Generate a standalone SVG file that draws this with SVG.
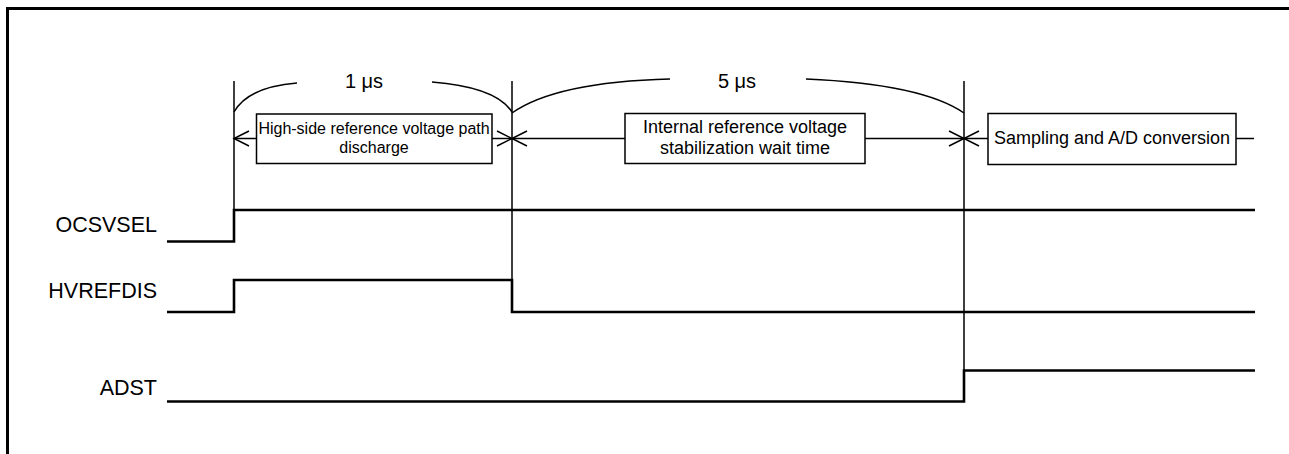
<svg xmlns="http://www.w3.org/2000/svg" width="1289" height="454" viewBox="0 0 1289 454">
<style>
.bg{fill:#fff}
.frame{fill:none;stroke:#000;stroke-width:3}
.guide{fill:none;stroke:#000;stroke-width:1.5}
.sig{fill:none;stroke:#000;stroke-width:2.6;stroke-linejoin:miter}
.box{fill:#fff;stroke:#000;stroke-width:1.5}
.t{font-family:"Liberation Sans",Arial,sans-serif;fill:#000}
.lbl{font-size:21.5px;text-anchor:end}
.btxt{font-size:18px;text-anchor:middle}
.dim{font-size:20px;text-anchor:middle}
</style>
<rect class="bg" x="0" y="0" width="1289" height="454"/>
<path class="frame" d="M7.5,454 V8.5 H1289"/>
<g id="connectors">
  <path class="guide" d="M234,81 V241 M512,81 V312 M964,81 V402"/>
  <path class="guide" d="M234,112 Q248,87 297,83 M432,82 Q496,87 512,112"/>
  <path class="guide" d="M512,113 Q556,82 670,79 M806,79 Q922,84 964,113"/>
  <path class="guide" d="M234,138.5 H256.5 M492,138.5 H625 M865,138.5 H988 M1236,138.5 H1254"/>
  <path class="guide" d="M249,131 L234,138.5 L249,146 M497,131 L512,138.5 L497,146 M527,131 L512,138.5 L527,146 M949,131 L964,138.5 L949,146 M979,131 L964,138.5 L979,146"/>
</g>
<g id="dim1"><text class="t dim" x="364" y="88">1 μs</text></g>
<g id="dim5"><text class="t dim" x="737" y="88">5 μs</text></g>
<g id="box-discharge">
  <rect class="box" x="256.5" y="114" width="235.5" height="49.5"/>
  <text class="t btxt" x="374" y="133.5" style="font-size:16px">High-side reference voltage path</text>
  <text class="t btxt" x="374" y="153" style="font-size:16px">discharge</text>
</g>
<g id="box-wait">
  <rect class="box" x="625" y="113.5" width="240" height="50"/>
  <text class="t btxt" x="745" y="133">Internal reference voltage</text>
  <text class="t btxt" x="745" y="154">stabilization wait time</text>
</g>
<g id="box-sampling">
  <rect class="box" x="988" y="113.5" width="248" height="51"/>
  <text class="t btxt" x="1112" y="144">Sampling and A/D conversion</text>
</g>
<g id="sig-ocsvsel">
  <text class="t lbl" x="157" y="231.5">OCSVSEL</text>
  <path class="sig" d="M167,241.5 H234 V210 H1255"/>
</g>
<g id="sig-hvrefdis">
  <text class="t lbl" x="157" y="298">HVREFDIS</text>
  <path class="sig" d="M167,312 H234 V280 H512 V312 H1255"/>
</g>
<g id="sig-adst">
  <text class="t lbl" x="157" y="395">ADST</text>
  <path class="sig" d="M167,401.5 H964 V370.5 H1255"/>
</g>
</svg>
